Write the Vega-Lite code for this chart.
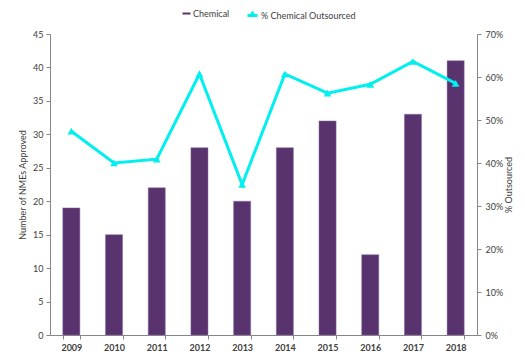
{
  "$schema": "https://vega.github.io/schema/vega-lite/v6.json",
  "width": 427,
  "height": 301,
  "autosize": "none",
  "padding": {"left": 50, "top": 34, "right": 48, "bottom": 24},
  "background": "white",
  "config": {
    "view": {"stroke": null},
    "font": "Lato",
    "axis": {"grid": false, "domainColor": "#868686", "tickColor": "#868686", "labelColor": "#404040", "titleColor": "#404040", "labelFont": "Lato", "titleFont": "Lato", "labelFontSize": 9, "titleFontSize": 9, "titleFontWeight": "normal", "tickSize": 4},
    "legend": {"labelFont": "Lato", "labelFontSize": 9, "labelColor": "#404040"}
  },
  "data": {
    "values": [
      {"Year": "2009", "Chemical": 19, "Pct": 0.474},
      {"Year": "2010", "Chemical": 15, "Pct": 0.400},
      {"Year": "2011", "Chemical": 22, "Pct": 0.409},
      {"Year": "2012", "Chemical": 28, "Pct": 0.607},
      {"Year": "2013", "Chemical": 20, "Pct": 0.350},
      {"Year": "2014", "Chemical": 28, "Pct": 0.607},
      {"Year": "2015", "Chemical": 32, "Pct": 0.5625},
      {"Year": "2016", "Chemical": 12, "Pct": 0.583},
      {"Year": "2017", "Chemical": 33, "Pct": 0.636},
      {"Year": "2018", "Chemical": 41, "Pct": 0.585}
    ]
  },
  "encoding": {
    "x": {"field": "Year", "type": "ordinal", "scale": {"paddingInner": 0.6, "paddingOuter": 0.3},
      "axis": {"title": null, "labelAngle": 0, "tickBand": "extent", "labelFontWeight": "bold", "labelPadding": 4}}
  },
  "layer": [
    {
      "mark": {"type": "bar", "stroke": "#8a6fa0", "strokeWidth": 0.5},
      "encoding": {
        "y": {"field": "Chemical", "type": "quantitative", "scale": {"domain": [0, 45], "nice": false},
          "axis": {"title": "Number of NMEs Approved", "values": [0,5,10,15,20,25,30,35,40,45], "titlePadding": 5, "labelPadding": 3}},
        "fill": {"datum": "Chemical", "type": "nominal", "scale": {"domain": ["Chemical"], "range": ["#58336E"]},
          "legend": {"title": null, "orient": "none", "legendX": 132, "legendY": -25, "symbolType": "M-1,-0.25H1V0.25H-1Z", "symbolSize": 64, "symbolStrokeWidth": 0, "labelOffset": 2}}
      }
    },
    {
      "mark": {"type": "line", "strokeWidth": 3},
      "encoding": {
        "y": {"field": "Pct", "type": "quantitative", "scale": {"domain": [0, 0.7], "nice": false},
          "axis": {"orient": "right", "title": "% Outsourced", "format": ".0%", "values": [0,0.1,0.2,0.3,0.4,0.5,0.6,0.7], "titleAngle": -90, "titlePadding": 11, "labelPadding": 4}},
        "stroke": {"datum": "% Chemical Outsourced", "type": "nominal", "scale": {"domain": ["% Chemical Outsourced"], "range": ["#00F0F0"]},
          "legend": {"title": null, "orient": "none", "legendX": 196, "legendY": -25, "symbolType": "M-1,0H-0.3L0,-0.45L0.3,0H1Z", "symbolSize": 100, "symbolStrokeWidth": 3, "symbolFillColor": "#00F0F0", "labelOffset": 2}}
      }
    },
    {
      "mark": {"type": "point", "shape": "triangle-up", "filled": true, "size": 60, "color": "#00F0F0", "opacity": 1},
      "encoding": {
        "y": {"field": "Pct", "type": "quantitative", "scale": {"domain": [0, 0.7], "nice": false}, "axis": null}
      }
    }
  ],
  "resolve": {"scale": {"y": "independent"}}
}
